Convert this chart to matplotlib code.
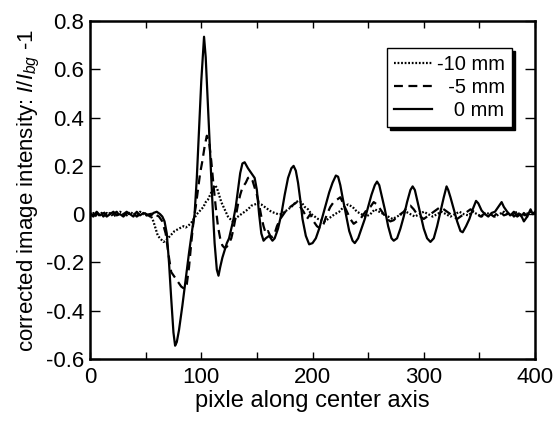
import matplotlib
matplotlib.use("Agg")
import matplotlib.pyplot as plt
from matplotlib.ticker import MultipleLocator, FuncFormatter

plt.rcParams['font.family'] = ['Liberation Sans', 'DejaVu Sans']
plt.rcParams['mathtext.fontset'] = 'custom'
plt.rcParams['mathtext.rm'] = 'Liberation Sans'
plt.rcParams['mathtext.it'] = 'Liberation Sans:italic'

# ---- data (x: pixel, y: I/Ibg - 1) ----
minus10mm = [(0,-0.005),(3,0.005),(6,-0.01),(9,0.0),(12,0.01),(15,-0.005),(18,0.005),(21,-0.01),(24,0.0),(27,0.01),(30,0.0),(33,-0.005),(36,0.01),(39,0.0),(42,-0.005),(45,0.01),(48,0.0),(51,-0.005),(53,0.0),(55,-0.01),(57,-0.03),(59,-0.06),(61,-0.09),(63,-0.1),(66,-0.115),(68,-0.11),(70,-0.1),(72,-0.09),(74,-0.08),(76,-0.07),(78,-0.065),(80,-0.06),(82,-0.055),(84,-0.05),(86,-0.055),(88,-0.05),(90,-0.04),(92,-0.03),(94,-0.015),(96,0.0),(98,0.01),(100,0.02),(102,0.03),(104,0.05),(106,0.06),(108,0.08),(110,0.1),(112,0.12),(114,0.11),(116,0.08),(118,0.05),(120,0.03),(122,0.01),(124,-0.01),(126,-0.02),(128,-0.03),(130,-0.02),(133,-0.01),(136,0.0),(139,0.01),(142,0.02),(145,0.035),(148,0.04),(151,0.045),(154,0.04),(157,0.03),(160,0.02),(163,0.01),(166,0.005),(169,0.0),(172,0.0),(175,0.01),(178,0.02),(181,0.03),(184,0.045),(187,0.055),(190,0.05),(193,0.03),(196,0.02),(199,0.0),(202,-0.01),(205,-0.02),(208,-0.025),(211,-0.03),(214,-0.02),(217,-0.01),(220,0.0),(224,0.01),(228,0.03),(232,0.04),(236,0.03),(240,0.01),(244,0.0),(248,-0.01),(252,0.0),(256,0.02),(260,0.01),(264,0.0),(268,-0.01),(272,-0.02),(276,-0.01),(280,0.0),(284,0.01),(288,0.0),(292,-0.01),(296,0.0),(300,0.01),(304,0.0),(308,-0.01),(312,0.0),(316,0.01),(320,0.0),(324,-0.01),(328,0.0),(332,0.01),(336,0.0),(340,-0.005),(344,0.01),(348,0.0),(352,-0.01),(356,0.005),(360,0.0),(364,-0.01),(368,0.0),(372,0.01),(376,-0.005),(380,0.0),(384,0.01),(388,-0.01),(392,0.0),(396,0.01),(400,0.0)]

minus5mm = [(0,0.005),(3,-0.005),(6,0.0),(9,0.01),(12,-0.01),(15,0.005),(18,-0.005),(21,0.0),(24,0.01),(27,-0.01),(30,0.0),(33,0.01),(36,-0.005),(39,0.005),(42,-0.01),(45,0.0),(48,0.01),(51,-0.005),(54,0.0),(57,0.005),(60,-0.005),(62,-0.01),(65,-0.03),(68,-0.08),(71,-0.18),(73,-0.24),(76,-0.26),(79,-0.28),(82,-0.3),(85,-0.31),(87,-0.29),(89,-0.22),(91,-0.12),(93,-0.03),(95,0.03),(97,0.1),(99,0.17),(101,0.22),(103,0.28),(105,0.325),(107,0.3),(109,0.22),(111,0.12),(113,0.03),(115,-0.05),(117,-0.1),(119,-0.13),(121,-0.14),(123,-0.135),(125,-0.12),(127,-0.1),(129,-0.06),(131,-0.01),(133,0.04),(135,0.08),(137,0.11),(140,0.13),(142,0.15),(144,0.155),(146,0.14),(148,0.11),(150,0.08),(152,0.04),(154,-0.01),(156,-0.05),(158,-0.08),(160,-0.07),(162,-0.09),(164,-0.095),(166,-0.08),(168,-0.05),(171,-0.02),(174,0.0),(177,0.02),(180,0.03),(183,0.04),(186,0.05),(189,0.03),(192,0.01),(195,-0.02),(198,0.0),(201,-0.03),(204,-0.05),(207,-0.06),(210,-0.04),(213,0.0),(216,0.03),(219,0.05),(222,0.06),(225,0.07),(228,0.04),(231,0.01),(234,-0.02),(237,-0.04),(240,-0.03),(243,-0.02),(246,0.0),(249,0.02),(252,0.03),(255,0.05),(258,0.04),(261,0.02),(264,0.0),(267,-0.02),(270,-0.03),(273,-0.025),(276,-0.01),(279,0.0),(282,0.01),(285,0.03),(288,0.035),(291,0.02),(294,0.0),(297,-0.01),(300,-0.02),(303,-0.01),(306,0.0),(309,0.01),(312,0.02),(315,0.03),(318,0.02),(321,0.01),(324,0.0),(327,-0.01),(330,-0.02),(333,-0.01),(336,0.0),(339,0.01),(342,0.02),(345,0.01),(348,0.0),(351,-0.01),(354,0.0),(357,0.01),(360,0.0),(363,-0.01),(366,0.005),(369,0.01),(372,-0.005),(375,0.0),(378,0.01),(381,-0.01),(384,0.0),(387,-0.015),(390,0.005),(393,-0.01),(396,0.0),(400,0.005)]

zero_mm = [(0,0.0),(3,-0.01),(6,0.01),(9,-0.005),(12,0.005),(15,-0.01),(18,0.0),(21,0.01),(24,-0.005),(27,0.0),(30,-0.01),(33,0.005),(36,0.0),(39,-0.01),(42,0.01),(45,-0.005),(48,0.005),(51,0.0),(54,-0.01),(57,0.005),(60,0.01),(63,0.0),(65,-0.01),(67,-0.03),(69,-0.08),(71,-0.2),(73,-0.35),(75,-0.49),(76.5,-0.545),(78,-0.53),(80,-0.48),(83,-0.38),(86,-0.27),(89,-0.16),(92,-0.06),(94,0.0),(96,0.15),(98,0.35),(100,0.55),(102.5,0.735),(104,0.65),(106,0.45),(108,0.25),(110,0.05),(112,-0.12),(114,-0.23),(115.5,-0.255),(117,-0.22),(119,-0.18),(121,-0.15),(123,-0.12),(125,-0.1),(127,-0.06),(129,-0.02),(131,0.03),(133,0.1),(135,0.17),(137,0.21),(139,0.215),(142,0.19),(145,0.17),(148,0.15),(150,0.1),(152,0.0),(154,-0.08),(156,-0.11),(158,-0.1),(161,-0.09),(164,-0.11),(166,-0.1),(169,-0.06),(172,0.0),(175,0.08),(178,0.15),(181,0.19),(183,0.2),(185,0.18),(187,0.13),(189,0.06),(191,-0.02),(194,-0.09),(197,-0.125),(200,-0.12),(203,-0.1),(206,-0.06),(209,-0.01),(212,0.04),(215,0.09),(218,0.13),(221,0.16),(223,0.155),(225,0.12),(227,0.07),(230,0.0),(233,-0.07),(236,-0.11),(238,-0.12),(241,-0.1),(244,-0.06),(247,-0.02),(250,0.03),(253,0.08),(256,0.12),(258,0.135),(260,0.12),(262,0.08),(265,0.02),(268,-0.05),(271,-0.1),(273,-0.11),(276,-0.1),(279,-0.06),(282,-0.01),(285,0.05),(288,0.1),(290,0.115),(292,0.1),(294,0.06),(297,0.0),(300,-0.06),(303,-0.1),(306,-0.115),(309,-0.1),(312,-0.05),(315,0.01),(318,0.07),(320.5,0.115),(322,0.1),(324,0.07),(327,0.02),(330,-0.03),(333,-0.07),(335,-0.075),(338,-0.05),(341,-0.02),(344,0.02),(347,0.055),(349,0.045),(352,0.015),(355,0.0),(358,-0.01),(361,0.005),(364,0.01),(367,0.03),(370,0.05),(372,0.03),(375,0.01),(378,-0.005),(381,0.01),(384,-0.01),(387,0.0),(390,-0.03),(393,-0.01),(396,0.02),(398,0.0),(400,0.01)]

labels = ["-10 mm", "  -5 mm", "   0 mm"]
xticks = [0, 100, 200, 300, 400]
yticks = [-0.6, -0.4, -0.2, 0, 0.2, 0.4, 0.6, 0.8]

fig = plt.figure(figsize=(5.58, 4.21), dpi=100)
ax = fig.add_axes([0.1613, 0.1473, 0.7975, 0.8027])

def xy(pairs):
    return [p[0] for p in pairs], [p[1] for p in pairs]

x, y = xy(minus10mm)
ax.plot(x, y, color='black', lw=1.6, linestyle=(0, (0.8, 0.8)), label=labels[0])
x, y = xy(minus5mm)
ax.plot(x, y, color='black', lw=1.6, linestyle=(0, (4, 2.5)), label=labels[1])
x, y = xy(zero_mm)
ax.plot(x, y, color='black', lw=1.6, linestyle='-', label=labels[2])

ax.set_xlim(0, 400)
ax.set_ylim(-0.6, 0.8)
ax.set_xticks(xticks)
ax.xaxis.set_minor_locator(MultipleLocator(50))
ax.set_yticks(yticks)
ax.yaxis.set_major_formatter(FuncFormatter(lambda v, p: '0' if abs(v) < 1e-9 else f'{v:.1f}'))

ax.tick_params(which='both', direction='in', top=True, right=True, labelsize=16, width=1.0)
ax.tick_params(axis='y', which='major', length=7.5, pad=4)
ax.tick_params(axis='x', which='both', length=5, pad=6)
for s in ax.spines.values():
    s.set_linewidth(1.8)

ax.set_xlabel('pixle along center axis', fontsize=17, labelpad=1)
ax.set_ylabel(r'corrected image intensity: $I/I_{bg}$ -1', fontsize=16, labelpad=3)

leg = ax.legend(loc='upper right', bbox_to_anchor=(0.948, 0.92), fontsize=14.5,
                frameon=True, fancybox=False, shadow={'color': 'black', 'alpha': 1.0},
                edgecolor='black', handlelength=1.85, labelspacing=0.2,
                borderpad=0.35, handletextpad=0.25, borderaxespad=0)
leg.get_frame().set_linewidth(1.0)

fig.savefig('out.png', dpi=100)
